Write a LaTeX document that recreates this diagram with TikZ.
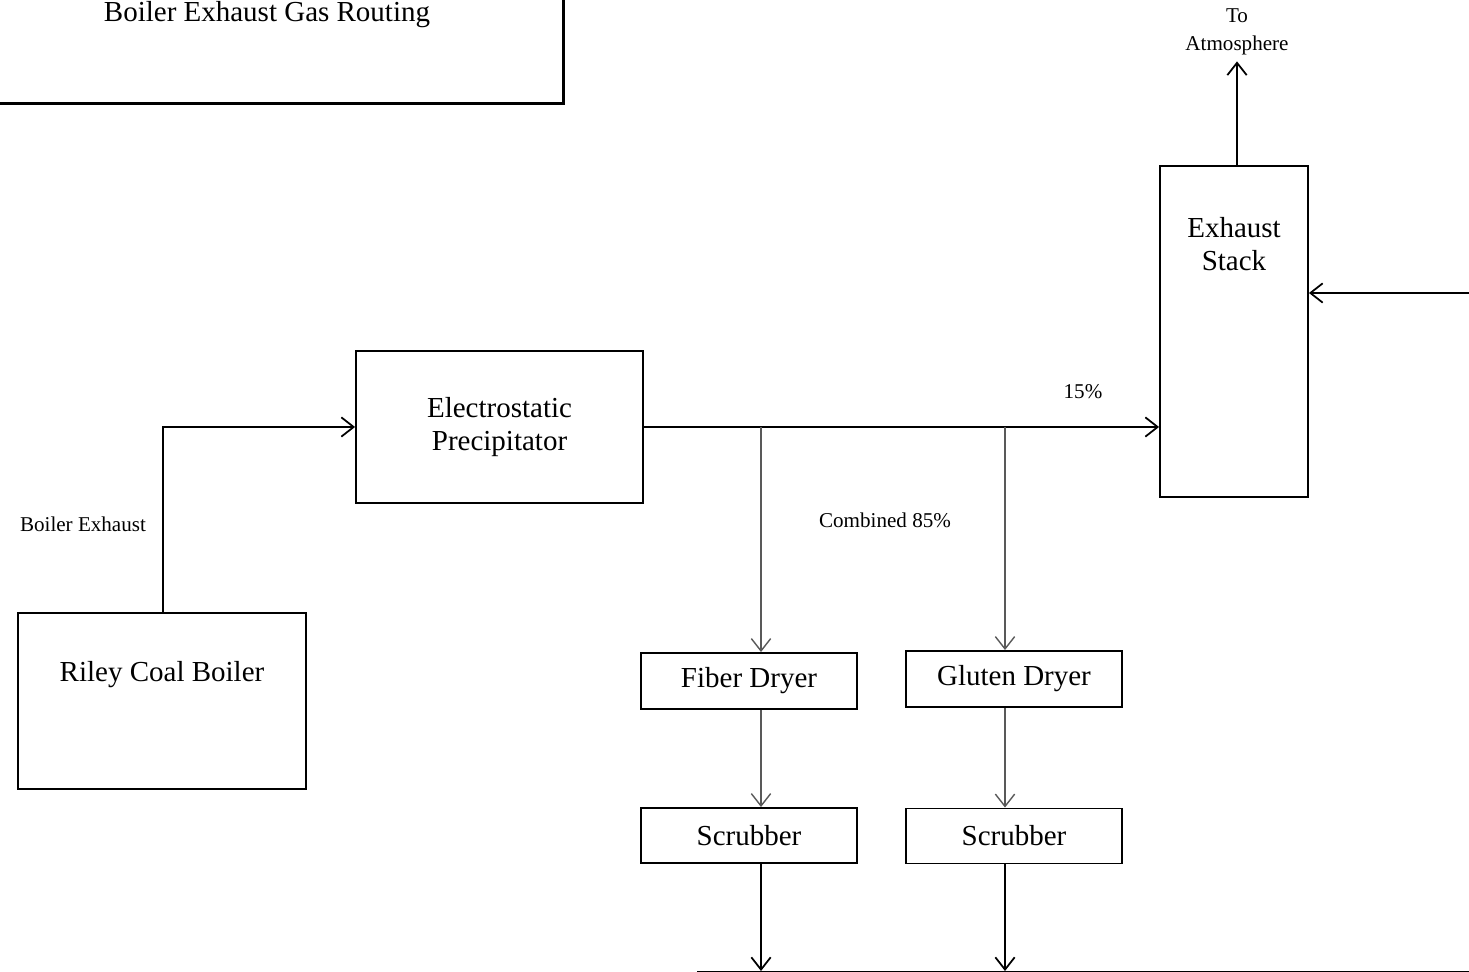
\documentclass[tikz,border=0pt]{standalone}
\usepackage{fontspec}
\setmainfont{Liberation Serif}
\usetikzlibrary{arrows.meta}

\tikzset{
  unit/.style={draw, line width=1.1pt, inner sep=0pt},
  flow/.style={line width=1pt, -{Straight Barb[length=7pt,width=11pt]}},
  feed/.style={flow, line width=0.8pt, black!65},
  bigtxt/.style={font=\fontsize{16.5}{19}\selectfont, align=center},
  smalltxt/.style={font=\fontsize{12}{16}\selectfont, align=center}
}

\begin{document}
\begin{tikzpicture}[x=0.02cm, y=-0.02cm]
   \useasboundingbox (0,0) rectangle (1469,972);
   \clip (0,0) rectangle (1469,972);

   % title box (runs off the page)
   \node[unit, line width=1.6pt, minimum width=12cm, minimum height=3cm, anchor=south east] (title) at (565,105) {};
   \node[bigtxt] (titletxt) at (267,15) {Boiler Exhaust Gas Routing};

   % units
   \node[unit, minimum width=5.76cm, minimum height=3.52cm] (boiler) at (162,701) {};
   \node[bigtxt] (boilertxt) at (162,675) {Riley Coal Boiler};
   \node[unit, bigtxt, minimum width=5.74cm, minimum height=3.04cm] (esp) at (499.5,427) {Electrostatic\\Precipitator};
   \node[unit, minimum width=2.96cm, minimum height=6.62cm] (stack) at (1234,331.5) {};
   \node[bigtxt] (stacktxt) at (1234,244) {Exhaust\\Stack};
   \node[unit, bigtxt, minimum width=4.32cm, minimum height=1.12cm] (fiber) at (749,681) {Fiber Dryer};
   \node[unit, bigtxt, minimum width=4.32cm, minimum height=1.12cm] (gluten) at (1014,679) {Gluten Dryer};
   \node[unit, bigtxt, minimum width=4.32cm, minimum height=1.1cm] (scrubA) at (749,835.5) {Scrubber};
   \node[unit, bigtxt, minimum width=4.32cm, minimum height=1.1cm] (scrubB) at (1014,836) {Scrubber};
   \node[unit, minimum width=20cm, minimum height=2cm, anchor=north west] (lower) at (697,971) {};
   \node[smalltxt] (atmos) at (1237,32) {To\\Atmosphere};

   % boiler exhaust to precipitator
   \coordinate (bend) at (163,427);
   \draw[flow] (boiler.north -| bend) -- (bend) -- (esp.west);
   \node[smalltxt] (exhlbl) at (83,524) {Boiler Exhaust};

   % precipitator to stack
   \draw[flow] (esp.east) -- (esp.east -| stack.west);
   \node[smalltxt] (pct15) at (1083,392) {15\%};

   % split to the dryers
   \coordinate (splitA) at (761,427);
   \coordinate (splitB) at (1005,427);
   \draw[feed] (splitA) -- (splitA |- fiber.north);
   \draw[feed] (splitB) -- (splitB |- gluten.north);
   \node[smalltxt] (pct85) at (885,520) {Combined 85\%};

   % dryers to scrubbers and on down
   \draw[feed] (fiber.south -| splitA) -- (scrubA.north -| splitA);
   \draw[feed] (gluten.south -| splitB) -- (scrubB.north -| splitB);
   \draw[flow] (scrubA.south -| splitA) -- (lower.north -| splitA);
   \draw[flow] (scrubB.south -| splitB) -- (lower.north -| splitB);

   % stack to atmosphere, side inlet
   \draw[flow] (stack.north -| atmos) -- (atmos.south);
   \coordinate (sidein) at (1480,293);
   \draw[flow] (sidein) -- (sidein -| stack.east);
\end{tikzpicture}
\end{document}
